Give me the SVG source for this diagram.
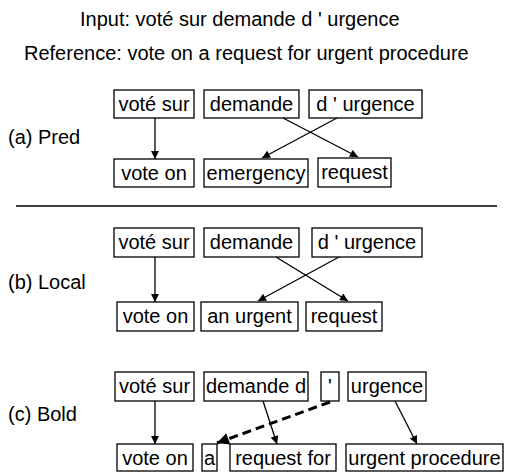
<svg xmlns="http://www.w3.org/2000/svg" width="506" height="472" viewBox="0 0 506 472">
<defs>
<style>
text{font-family:"Liberation Sans",Arial,sans-serif;font-size:20px;fill:#000}
.box rect{fill:#fff;stroke:#000;stroke-width:1.3}
.box text{text-anchor:middle}
.edge{stroke:#000;stroke-width:1.3;fill:none;marker-end:url(#ah)}
.dash{stroke:#000;stroke-width:3;fill:none;stroke-dasharray:9 5;marker-end:url(#ahb)}
</style>
<marker id="ah" viewBox="0 0 10 10" refX="10" refY="5" markerWidth="9" markerHeight="8" markerUnits="userSpaceOnUse" orient="auto"><path d="M0,0 L10,5 L0,10 z" fill="#000"/></marker>
<marker id="ahb" viewBox="0 0 10 10" refX="10" refY="5" markerWidth="13" markerHeight="12" markerUnits="userSpaceOnUse" orient="auto"><path d="M0,0 L10,5 L0,10 z" fill="#000"/></marker>
</defs>
<g id="titles">
<text x="80" y="26">Input: voté sur demande d ' urgence</text>
<text x="24" y="60">Reference: vote on a request for urgent procedure</text>
</g>
<g id="labels">
<text x="8" y="144">(a) Pred</text>
<text x="8" y="289">(b) Local</text>
<text x="8" y="421">(c) Bold</text>
</g>
<line x1="16" y1="206" x2="497" y2="206" stroke="#000" stroke-width="1.5"/>
<g id="a_vote_sur" class="box"><rect x="114" y="90" width="80" height="28"/><text x="154" y="111">voté sur</text></g>
<g id="a_demande" class="box"><rect x="204" y="90" width="95" height="28"/><text x="251.5" y="111">demande</text></g>
<g id="a_durgence" class="box"><rect x="309" y="90" width="113" height="28"/><text x="365.5" y="111">d ' urgence</text></g>
<g id="a_vote_on" class="box"><rect x="114" y="159" width="80" height="28"/><text x="154" y="180">vote on</text></g>
<g id="a_emergency" class="box"><rect x="204" y="159" width="104" height="28"/><text x="256" y="180">emergency</text></g>
<g id="a_request" class="box"><rect x="318" y="158" width="73" height="29"/><text x="354.5" y="179">request</text></g>
<g id="b_vote_sur" class="box"><rect x="114" y="228" width="80" height="29"/><text x="154" y="249">voté sur</text></g>
<g id="b_demande" class="box"><rect x="204" y="228" width="95" height="29"/><text x="251.5" y="249">demande</text></g>
<g id="b_durgence" class="box"><rect x="312" y="228" width="110" height="29"/><text x="367" y="249">d ' urgence</text></g>
<g id="b_vote_on" class="box"><rect x="117" y="302" width="77" height="29"/><text x="155.5" y="323">vote on</text></g>
<g id="b_an_urgent" class="box"><rect x="201" y="302" width="97" height="29"/><text x="249.5" y="323">an urgent</text></g>
<g id="b_request" class="box"><rect x="306" y="302" width="76" height="29"/><text x="344" y="323">request</text></g>
<g id="c_vote_sur" class="box"><rect x="115" y="372" width="79" height="29"/><text x="154.5" y="393">voté sur</text></g>
<g id="c_demande_d" class="box"><rect x="204" y="372" width="104" height="29"/><text x="256" y="393">demande d</text></g>
<g id="c_apos" class="box"><rect x="321" y="372" width="18" height="29"/><text x="330" y="393">'</text></g>
<g id="c_urgence" class="box"><rect x="348" y="372" width="78" height="29"/><text x="387" y="393">urgence</text></g>
<g id="c_vote_on" class="box"><rect x="117" y="444" width="76" height="27"/><text x="155" y="465">vote on</text></g>
<g id="c_a" class="box"><rect x="202" y="444" width="15" height="27"/><text x="209.5" y="465">a</text></g>
<g id="c_request_for" class="box"><rect x="230" y="444" width="106" height="27"/><text x="283" y="465">request for</text></g>
<g id="c_urgent_procedure" class="box"><rect x="346" y="444" width="157" height="27"/><text x="424.5" y="465">urgent procedure</text></g>
<g id="connectors">
<line class="edge" x1="155" y1="118" x2="155" y2="159"/>
<line class="edge" x1="283" y1="118" x2="358" y2="157"/>
<line class="edge" x1="337" y1="118" x2="262" y2="158"/>
<line class="edge" x1="155" y1="257" x2="155" y2="302"/>
<line class="edge" x1="276" y1="257" x2="348" y2="301"/>
<line class="edge" x1="339" y1="257" x2="258" y2="301"/>
<line class="edge" x1="155" y1="401" x2="155" y2="444"/>
<line class="edge" x1="263" y1="401" x2="277" y2="444"/>
<line class="edge" x1="395" y1="401" x2="417" y2="444"/>
<line class="dash" x1="330" y1="402" x2="217" y2="443"/>
</g>
</svg>
